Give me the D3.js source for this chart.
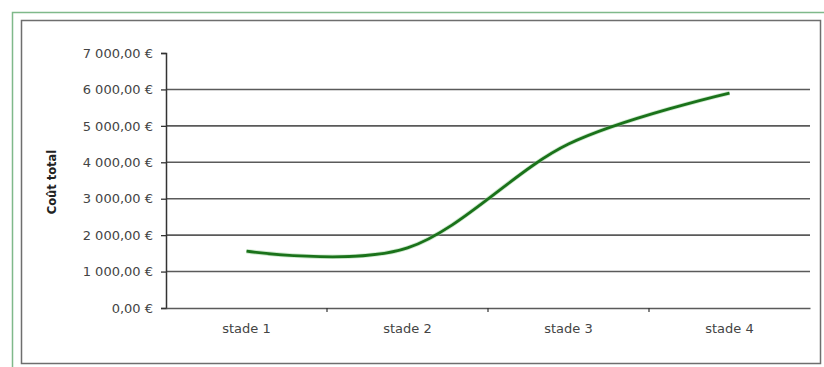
<!DOCTYPE html>
<html>
<head>
<meta charset="utf-8">
<script src="https://cdn.jsdelivr.net/npm/d3@7"></script>
<style>
  body { margin: 0; background: #fff; }
  svg { display: block; font-family: "DejaVu Sans", "Liberation Sans", Arial, sans-serif; }
</style>
</head>
<body>
<div id="chart"></div>
<script>
// values
var stades = ["stade 1", "stade 2", "stade 3", "stade 4"];
var coutTotal = [1560, 1650, 4500, 5900];
var yTicks = [0, 1000, 2000, 3000, 4000, 5000, 6000, 7000];

var width = 824, height = 367;
var svg = d3.select("#chart").append("svg")
  .attr("width", width)
  .attr("height", height);

// frames (outer green, inner grey)
svg.append("rect").attr("x", 12.5).attr("y", 12.5).attr("width", 830).attr("height", 380)
  .attr("fill", "none").attr("stroke", "#7fb98a").attr("stroke-width", 1.5);
svg.append("rect").attr("x", 21.5).attr("y", 20.5).attr("width", 799).attr("height", 343)
  .attr("fill", "#fff").attr("stroke", "#6e6e6e").attr("stroke-width", 1.5);

// plot area (window.top is read-only, so no "top" variable here)
var plotLeft = 166, plotRight = 810, plotTop = 53, plotBottom = 308;

var x = d3.scaleBand().domain(stades).range([plotLeft, plotRight]);
var y = d3.scaleLinear().domain([0, 7000]).range([plotBottom, plotTop]);

// gridlines
svg.append("g")
  .selectAll("line")
  .data(yTicks.filter(function(d) { return d > 0 && d < 7000; }))
  .enter().append("line")
  .attr("x1", plotLeft).attr("x2", plotRight)
  .attr("y1", function(d) { return y(d); })
  .attr("y2", function(d) { return y(d); })
  .attr("stroke", "#5a5a5a")
  .attr("stroke-width", 1.6);

var fmt = function(d) {
  return d3.format(",.2f")(d).replace(/,/g, " ").replace(".", ",") + " €";
};

// y axis
var yAxis = svg.append("g")
  .attr("transform", "translate(" + plotLeft + ",0)")
  .call(d3.axisLeft(y).tickValues(yTicks).tickFormat(fmt).tickSize(5).tickPadding(8));
yAxis.select(".domain").attr("stroke", "#333").attr("stroke-width", 1.5);
yAxis.selectAll(".tick line").attr("stroke", "#333").attr("stroke-width", 1.3);
yAxis.selectAll("text").attr("font-size", 13).attr("fill", "#444")
  .attr("font-family", "DejaVu Sans, sans-serif");

// x axis
var xAxis = svg.append("g")
  .attr("transform", "translate(0," + plotBottom + ")")
  .call(d3.axisBottom(x).tickSize(0).tickPadding(16));
xAxis.select(".domain").attr("stroke", "#5a5a5a").attr("stroke-width", 1.6);
xAxis.selectAll("text").attr("font-size", 13).attr("fill", "#444")
  .attr("font-family", "DejaVu Sans, sans-serif");

// category boundary ticks
svg.append("g")
  .selectAll("line")
  .data(stades.slice(1))
  .enter().append("line")
  .attr("x1", function(d) { return x(d); })
  .attr("x2", function(d) { return x(d); })
  .attr("y1", plotBottom).attr("y2", plotBottom + 4)
  .attr("stroke", "#333").attr("stroke-width", 1.2);

// y title
svg.append("text")
  .attr("transform", "translate(56,182) rotate(-90)")
  .attr("text-anchor", "middle")
  .attr("font-size", 11.5)
  .attr("font-weight", "bold")
  .attr("fill", "#222")
  .text("Coût total");

// smoothed line
var line = d3.line()
  .x(function(d, i) { return x(stades[i]) + x.bandwidth() / 2; })
  .y(function(d) { return y(d); })
  .curve(d3.curveCardinal.tension(0));

svg.append("path")
  .datum(coutTotal)
  .attr("d", line)
  .attr("fill", "none")
  .attr("stroke", "#9bd49b")
  .attr("stroke-width", 4.5)
  .attr("stroke-opacity", 0.5);
svg.append("path")
  .datum(coutTotal)
  .attr("d", line)
  .attr("fill", "none")
  .attr("stroke", "#1a721a")
  .attr("stroke-width", 2.8);
</script>
</body>
</html>
